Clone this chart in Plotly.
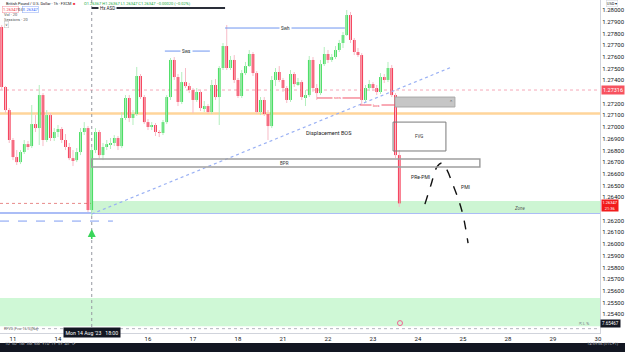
import plotly.graph_objects as go

# ---------------- data: GBP/USD bars (x = trading hours since Thu 10 Aug 2023 00:00, weekends removed)
hours = list(range(18, 231, 2))
opens = [1.27855,1.27342,1.27145,1.26889,1.26743,1.26700,1.26786,1.26854,1.26837,1.27025,
         1.26991,1.27273,1.26889,1.27102,1.26906,1.26957,1.26983,1.26889,1.26829,1.26734,
         1.26717,1.26786,1.26957,1.26991,1.26290,1.26803,1.26957,1.26760,1.26829,1.26854,
         1.26863,1.26906,1.26837,1.27077,1.27248,1.27077,1.27111,1.27436,1.27256,1.27042,
         1.27000,1.27017,1.26957,1.26949,1.27042,1.27256,1.27573,1.27427,1.27214,1.27384,
         1.27350,1.27316,1.27231,1.27299,1.27162,1.27179,1.27128,1.27359,1.27256,1.27504,
         1.27692,1.27504,1.27573,1.27402,1.27265,1.27461,1.27521,1.27624,1.27461,1.27128,
         1.27231,1.27111,1.27008,1.27402,1.27470,1.27402,1.27333,1.27231,1.27453,1.27367,
         1.27384,1.27256,1.27273,1.27573,1.27333,1.27290,1.27538,1.27624,1.27573,1.27598,
         1.27658,1.27718,1.27786,1.27957,1.27744,1.27641,1.27615,1.27231,1.27333,1.27367,
         1.27333,1.27299,1.27427,1.27402,1.27504,1.27273,1.26760]
closes = [1.27342,1.27145,1.26889,1.26743,1.26700,1.26786,1.26854,1.26837,1.27025,1.26991,
          1.27273,1.26889,1.27102,1.26906,1.26957,1.26983,1.26889,1.26829,1.26734,1.26717,
          1.26786,1.26957,1.26991,1.26290,1.26803,1.26957,1.26760,1.26829,1.26854,1.26863,
          1.26906,1.26837,1.27077,1.27248,1.27077,1.27111,1.27436,1.27256,1.27042,1.27000,
          1.27017,1.26957,1.26949,1.27042,1.27256,1.27573,1.27427,1.27214,1.27384,1.27350,
          1.27316,1.27231,1.27299,1.27162,1.27179,1.27128,1.27359,1.27256,1.27504,1.27692,
          1.27504,1.27573,1.27402,1.27265,1.27461,1.27521,1.27624,1.27461,1.27128,1.27231,
          1.27111,1.27008,1.27402,1.27470,1.27402,1.27333,1.27231,1.27453,1.27367,1.27384,
          1.27256,1.27273,1.27573,1.27333,1.27290,1.27538,1.27624,1.27573,1.27598,1.27658,
          1.27718,1.27786,1.27957,1.27744,1.27641,1.27615,1.27231,1.27333,1.27367,1.27333,
          1.27299,1.27427,1.27402,1.27504,1.27273,1.26760,1.26347]
highs = [1.27872,1.27350,1.27162,1.26906,1.26803,1.26803,1.26889,1.26880,1.27188,1.27102,
         1.27359,1.27290,1.27145,1.27119,1.26991,1.27017,1.27000,1.26940,1.26863,1.26803,
         1.26820,1.26991,1.27042,1.27008,1.26829,1.26991,1.26974,1.26863,1.26889,1.26906,
         1.26931,1.26923,1.27128,1.27273,1.27273,1.27145,1.27513,1.27453,1.27273,1.27068,
         1.27042,1.27034,1.26974,1.27060,1.27273,1.27590,1.27598,1.27453,1.27470,1.27504,
         1.27376,1.27333,1.27333,1.27316,1.27222,1.27196,1.27402,1.27410,1.27521,1.27718,
         1.27872,1.27607,1.27615,1.27419,1.27487,1.27556,1.27658,1.27641,1.27478,1.27256,
         1.27256,1.27145,1.27436,1.27504,1.27521,1.27419,1.27350,1.27487,1.27470,1.27419,
         1.27402,1.27316,1.27607,1.27598,1.27367,1.27573,1.27684,1.27658,1.27624,1.27692,
         1.27744,1.27812,1.28000,1.27983,1.27761,1.27675,1.27632,1.27359,1.27402,1.27384,
         1.27359,1.27461,1.27453,1.27556,1.27530,1.27290,1.26803]
lows = [1.27316,1.27119,1.26863,1.26717,1.26675,1.26683,1.26769,1.26803,1.26820,1.26957,
        1.26846,1.26837,1.26871,1.26880,1.26880,1.26914,1.26863,1.26803,1.26717,1.26666,
        1.26700,1.26760,1.26931,1.26273,1.26239,1.26777,1.26734,1.26717,1.26803,1.26812,
        1.26837,1.26803,1.26820,1.27060,1.27042,1.27017,1.27094,1.27239,1.27025,1.26974,
        1.26974,1.26923,1.26914,1.26931,1.27025,1.27231,1.27402,1.27179,1.27196,1.27333,
        1.27290,1.27119,1.27214,1.27136,1.27128,1.27111,1.27111,1.27231,1.27017,1.27487,
        1.27487,1.27487,1.27376,1.27248,1.27248,1.27444,1.27513,1.27436,1.27111,1.27102,
        1.27094,1.26889,1.26991,1.27350,1.27384,1.27299,1.27205,1.27214,1.27342,1.27350,
        1.27231,1.27179,1.27256,1.27299,1.27231,1.27273,1.27521,1.27547,1.27556,1.27581,
        1.27641,1.27675,1.27778,1.27718,1.27615,1.27598,1.27196,1.27214,1.27307,1.27307,
        1.27273,1.27282,1.27376,1.27384,1.27256,1.26734,1.26316]

day_hours = [24, 48, 96, 120, 144, 168, 192, 216, 240, 264, 288, 312, 336]
day_labels = ["11", "14", "16", "17", "18", "21", "22", "23", "24", "25", "28", "29", "30"]
price_ticks = [1.254, 1.255, 1.256, 1.257, 1.258, 1.259, 1.260, 1.261, 1.262, 1.264,
               1.265, 1.266, 1.267, 1.268, 1.269, 1.270, 1.271, 1.272, 1.274, 1.275,
               1.276, 1.277, 1.278, 1.279, 1.280]

# drawing levels (time in hours, price)
orange_level = 1.27115
marked_level = 1.27316
last_price = 1.26347
support_level = 1.26264
zone = (1.26264, 1.26367)
low_band = (1.25298, 1.25538)
bpr_box = (66, 273, 1.26658, 1.26726)
fvg_box = (226.7, 254.9, 1.26795, 1.27042)
gray_box = (227.7, 259.7, 1.27171, 1.27256)
trend = ((66, 1.26256), (258.1, 1.27513))
crosshair_hour = 66
proj_hours = [243.7, 246.9, 250.1, 252.8, 255.5, 258.1, 261.3, 264.0, 266.7]
proj_prices = [1.26341, 1.26504, 1.26658, 1.26692, 1.26632, 1.26529, 1.26393, 1.26247, 1.26008]

X0, X1 = 17.07, 337.07
Y0, Y1 = 1.252393, 1.280855

UP, DN = "#2DD84B", "#F41F3D"
UP_W, DN_W = "#B3EFBE", "#F7BCC7"

n = len(hours)
up_idx = [i for i in range(n) if closes[i] >= opens[i]]
dn_idx = [i for i in range(n) if closes[i] < opens[i]]


def wick_xy(idx):
    xs, ys = [], []
    for i in idx:
        xs += [hours[i], hours[i], None]
        ys += [lows[i], highs[i], None]
    return xs, ys


fig = go.Figure()

shapes = []
shapes.append(dict(type="rect", xref="paper", x0=0, x1=1, yref="y", y0=low_band[0], y1=low_band[1],
                   fillcolor="#CFF8D6", line_width=0, layer="below"))
shapes.append(dict(type="rect", xref="x", x0=crosshair_hour, x1=X1, yref="y", y0=zone[0], y1=zone[1],
                   fillcolor="#CDF5D3", line_width=0, layer="below"))
shapes.append(dict(type="line", xref="paper", x0=0, x1=1, yref="y", y0=orange_level, y1=orange_level,
                   line=dict(color="#FFD59A", width=2.5), layer="below"))
shapes.append(dict(type="line", xref="paper", x0=0, x1=1, yref="y", y0=marked_level, y1=marked_level,
                   line=dict(color="#F5A8B8", width=1, dash="dot"), layer="below"))
shapes.append(dict(type="line", xref="paper", x0=0, x1=1, yref="y", y0=last_price, y1=last_price,
                   line=dict(color="#E88A8A", width=1, dash="dot"), layer="below"))
shapes.append(dict(type="line", xref="paper", x0=0, x1=1, yref="y", y0=support_level, y1=support_level,
                   line=dict(color="#8FA7F3", width=1.5), layer="below"))
shapes.append(dict(type="line", xref="x", x0=crosshair_hour, x1=crosshair_hour, yref="paper", y0=0, y1=1,
                   line=dict(color="#9598A1", width=1, dash="dot"), layer="below"))
shapes.append(dict(type="line", xref="x", x0=X0, x1=77.3, yref="y", y0=1.26196, y1=1.26196,
                   line=dict(color="#7E9CF2", width=1, dash="dash")))
shapes.append(dict(type="line", xref="x", x0=trend[0][0], x1=trend[1][0], yref="y", y0=trend[0][1], y1=trend[1][1],
                   line=dict(color="#9AB1F4", width=1.2, dash="dot")))
shapes.append(dict(type="rect", xref="x", x0=bpr_box[0], x1=bpr_box[1], yref="y", y0=bpr_box[2], y1=bpr_box[3],
                   line=dict(color="#9E9E9E", width=1.5), fillcolor="rgba(0,0,0,0)"))
shapes.append(dict(type="rect", xref="x", x0=fvg_box[0], x1=fvg_box[1], yref="y", y0=fvg_box[2], y1=fvg_box[3],
                   line=dict(color="#7A7A7A", width=1), fillcolor="rgba(0,0,0,0)"))
shapes.append(dict(type="rect", xref="x", x0=gray_box[0], x1=gray_box[1], yref="y", y0=gray_box[2], y1=gray_box[3],
                   line=dict(color="#A8A8A8", width=1), fillcolor="#C6C6C6"))
shapes.append(dict(type="line", xref="x", x0=crosshair_hour, x1=137.1, yref="y", y0=1.28017, y1=1.28017,
                   line=dict(color="#2A2E39", width=2)))
shapes.append(dict(type="line", xref="x", x0=105, x1=129, yref="y", y0=1.27649, y1=1.27649,
                   line=dict(color="#6F95F0", width=1)))
shapes.append(dict(type="line", xref="x", x0=137.1, x1=201, yref="y", y0=1.27846, y1=1.27846,
                   line=dict(color="#6F95F0", width=1)))
shapes.append(dict(type="line", xref="x", x0=186.1, x1=209.1, yref="y", y0=1.27248, y1=1.27248,
                   line=dict(color="#F2556A", width=1)))
shapes.append(dict(type="line", xref="x", x0=209.1, x1=227.7, yref="y", y0=1.27188, y1=1.27188,
                   line=dict(color="#F2556A", width=1)))
shapes.append(dict(type="line", xref="paper", x0=0.06, x1=1, yref="paper", y0=0.013, y1=0.013,
                   line=dict(color="#B2B5BE", width=1, dash="dot")))
shapes.append(dict(type="rect", xref="paper", x0=0, x1=625 / 600, yref="paper", y0=-19 / 333, y1=-10 / 333,
                   fillcolor="#131722", line_width=0))

for idx, col in ((up_idx, UP_W), (dn_idx, DN_W)):
    xs, ys = wick_xy(idx)
    fig.add_trace(go.Scatter(x=xs, y=ys, mode="lines", line=dict(color=col, width=1), hoverinfo="skip"))

body_base = [min(o, c) for o, c in zip(opens, closes)]
body_len = [max(abs(c - o), 0.00002) for o, c in zip(opens, closes)]
body_col = [UP if c >= o else DN for o, c in zip(opens, closes)]
fig.add_trace(go.Bar(x=hours, y=body_len, base=body_base, width=1.4, marker=dict(color=body_col, line_width=0),
                     hoverinfo="skip"))

fig.add_trace(go.Scatter(x=proj_hours, y=proj_prices, mode="lines",
                         line=dict(color="#111111", width=1.4, dash="dash", shape="spline"), hoverinfo="skip"))

fig.add_trace(go.Scatter(x=[230.4], y=[1.25324], mode="markers",
                         marker=dict(symbol="circle-open", size=5, color="#F06292", line=dict(width=1)),
                         hoverinfo="skip"))

ann = []


def txt(x, y, t, size=5, color="#131722", xref="x", yref="y", **kw):
    d = dict(x=x, y=y, xref=xref, yref=yref, text=t, showarrow=False,
             font=dict(size=size, color=color, family="Roboto"))
    d.update(kw)
    ann.append(d)


txt(74.6, 1.28017, "Hx ASD", size=4.5, bgcolor="white")
txt(116.8, 1.27649, "Sws", size=4.5, bgcolor="white")
txt(169.6, 1.27846, "Swh", size=4.5, bgcolor="white")
txt(197.3, 1.27248, "sws", size=4, color="#F2556A", bgcolor="white")
txt(218.1, 1.27188, "bos", size=4, color="#F2556A", bgcolor="white")
txt(169, 1.26692, "BPR", size=4.5, color="#333333")
txt(240.8, 1.26923, "FVG", size=4.5, color="#333333")
txt(257.6, 1.27214, "⌃", size=5, color="#555555")
txt(192.5, 1.26949, "Displacement BOS", size=5.5, color="#222222")
txt(241.6, 1.26572, "PRe-PMI", size=5, color="#222222")
txt(265.6, 1.26487, "PMI", size=5, color="#222222")
txt(294.4, 1.26307, "<i>Zone</i>", size=4.5, color="#555555")

ann.append(dict(x=crosshair_hour, y=1.26128, ax=crosshair_hour, ay=1.26030, xref="x", yref="y", axref="x", ayref="y",
                showarrow=True, arrowhead=2, arrowsize=1, arrowwidth=1.6, arrowcolor="#3AD65A", text=""))

txt(1.0, marked_level, "1.27316", size=5.5, color="white", xref="paper", xanchor="left", xshift=1,
    bgcolor="#F7525F", borderpad=1)
txt(1.0, last_price, "1.26347<br>21:36", size=4, color="white", xref="paper", xanchor="left", xshift=1,
    yshift=-2, bgcolor="#F21B1B", borderpad=0.4)
txt(1.01, 1.0, "USD ▾", size=4, color="#131722", xref="paper", yref="paper", xanchor="left", yanchor="top",
    bordercolor="#D1D4DC", borderwidth=0.5, borderpad=0.3)
txt(1.0, 0.015, "7.65467", size=4.5, color="white", xref="paper", yref="paper", xanchor="left",
    bgcolor="#131722", borderpad=1)
txt(0.985, 0.015, "⇱ L %", size=4, color="#787B86", xref="paper", yref="paper", xanchor="right")

txt(crosshair_hour, -0.016, "Mon 14 Aug '23   18:00", size=5.2, color="white", yref="paper",
    bgcolor="#131722", borderpad=1.5)

txt(0.005, -0.044, "1D  5D  1M  3M  6M  YTD  1Y  5Y  All   ⟳", size=4, color="#B2B5BE",
    xref="paper", yref="paper", xanchor="left")
txt(1.035, -0.044, "14:59:56 (UTC+1)", size=4, color="#B2B5BE", xref="paper", yref="paper", xanchor="right")

txt(0.006, 0.988, "British Pound / U.S. Dollar · 1h · FXCM", size=3.9, xref="paper", yref="paper",
    xanchor="left", yanchor="middle")
txt(0.119, 0.988, "■", size=4, color="#F23645", xref="paper", yref="paper", xanchor="left", yanchor="middle")
txt(0.136, 0.988, "O1.26367 H1.26367 L1.26347 C1.26347 −0.00020 (−0.02%)", size=4, color="#22AB44",
    xref="paper", yref="paper", xanchor="left", yanchor="middle")
txt(0.004, 0.972, "1.26347", size=4, color="#F23645", xref="paper", yref="paper", xanchor="left",
    yanchor="middle", bordercolor="#F7A0AA", borderwidth=0.6, borderpad=0.5)
txt(0.026, 0.972, "0.0", size=4, color="#131722", xref="paper", yref="paper", xanchor="left", yanchor="middle")
txt(0.036, 0.972, "1.26347", size=4, color="#2962FF", xref="paper", yref="paper", xanchor="left",
    yanchor="middle", bordercolor="#9DB4F5", borderwidth=0.6, borderpad=0.5)
txt(0.004, 0.957, "Vol · 20", size=4, color="#555555", xref="paper", yref="paper", xanchor="left",
    yanchor="middle")
txt(0.004, 0.942, "Sessions · 20", size=4, color="#555555", xref="paper", yref="paper", xanchor="left",
    yanchor="middle")
txt(0.006, 0.926, "∨", size=4, color="#555555", xref="paper", yref="paper", xanchor="left", yanchor="middle",
    bordercolor="#C0C0C0", borderwidth=0.5, borderpad=0.5)
txt(0.004, 0.013, "RFVG (Fvw-16/5)[Nu]", size=3.6, color="#555555", xref="paper", yref="paper",
    xanchor="left", yanchor="middle")

fig.update_layout(
    width=625, height=352, margin=dict(l=0, r=25, t=0, b=19),
    paper_bgcolor="white", plot_bgcolor="white", showlegend=False, barmode="overlay",
    font=dict(family="Roboto", color="#131722"),
    shapes=shapes, annotations=ann, hovermode=False,
)
fig.update_xaxes(range=[X0, X1], tickvals=day_hours, ticktext=day_labels, showgrid=False, zeroline=False,
                 showline=True, linecolor="#D1D4DC", linewidth=1, ticks="", tickfont=dict(size=6, color="#131722"),
                 fixedrange=True)
fig.update_yaxes(range=[Y0, Y1], side="right", tickvals=price_ticks, tickformat=".5f", showgrid=False,
                 zeroline=False, showline=True, linecolor="#D1D4DC", linewidth=1, ticks="",
                 tickfont=dict(size=6, color="#131722"), fixedrange=True)

fig.write_html("out.html")
